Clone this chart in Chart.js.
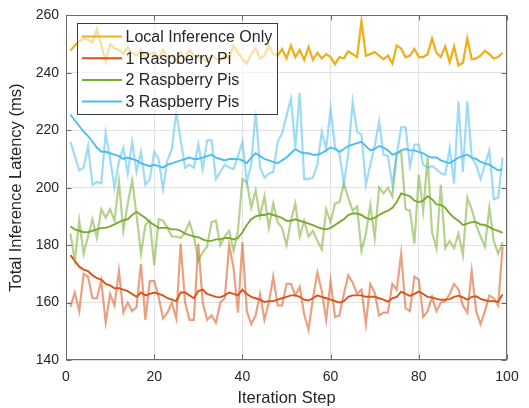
<!DOCTYPE html>
<html>
<head>
<meta charset="utf-8">
<title>Total Inference Latency</title>
<script src="https://cdn.jsdelivr.net/npm/chart.js@4.4.1/dist/chart.umd.min.js"></script>
<style>
  html, body { margin: 0; padding: 0; background: #fff; }
  #wrap { width: 529px; height: 408px; }
</style>
</head>
<body>
<div id="wrap"><canvas id="chart" width="529" height="408"></canvas></div>
<script>
// ============================================
// Inference latency per iteration step
// ============================================

const xTicks = [0, 20, 40, 60, 80, 100];
const yTicks = [140, 160, 180, 200, 220, 240, 260];

// iteration steps 1..99
const steps = Array.from({ length: 99 }, (_, i) => i + 1);

const localOnly = [
  247.8, 249.5, 251, 252, 251.5, 250.5, 255.3, 249.5, 244, 250,
  248.5, 248, 246.5, 249, 247, 246, 248, 245, 246.5, 247,
  245, 248, 245, 246, 244, 247, 245, 248, 246, 245.5,
  245, 244, 246, 245, 244.5, 246, 245, 249.5, 247, 245,
  243.2, 246.5, 248.5, 245, 246, 249.5, 246.5, 246, 248.3, 245,
  249.5, 245.5, 248, 244.5, 249, 244.5, 247, 245, 246.5, 245.5,
  243, 245.5, 245, 247.5, 246.5, 245.5, 258, 246, 246.5, 247.2,
  246, 244.7, 246, 243.2, 249.5, 248.5, 245.4, 246, 248.3, 245.5,
  245.5, 246.5, 252, 247, 245.5, 249.2, 243.7, 249.2, 242.6, 243.5,
  252, 244.7, 245, 246, 247.7, 246.5, 245, 245.5, 247
];

const pi1Raw = [
  158.5, 163.5, 157, 170, 169, 161.5, 161.5, 167.5, 153, 163,
  159, 171, 156.5, 160, 157, 158.5, 173.5, 154, 167.5, 167.5,
  162, 154.5, 156.5, 160, 154.5, 180.5, 160, 154, 154, 180.5,
  160, 154, 155.5, 153, 160, 161.5, 180, 172, 156.5, 181,
  157, 152.5, 155.5, 163, 154, 160, 169, 159, 159, 166.5,
  166.5, 162.5, 165.5, 156, 150.5, 161.5, 170.5, 164, 154, 167.5,
  155, 155.5, 163, 169.5, 167, 163, 164.5, 152.5, 166.5, 163.5,
  155.5, 156.5, 156.5, 166.5, 164.5, 177, 158, 157, 169, 168,
  155, 157, 162, 157, 160, 160.5, 163, 166.5, 164.5, 159,
  156.5, 171, 157, 152.5, 157, 162.5, 161.5, 159, 179.5
];

const pi1Smooth = [
  176.5, 174.5, 172.5, 171.5, 171, 169.5, 168.5, 168, 166.5, 166,
  165, 165, 164.5, 164, 163, 162, 163.5, 162.5, 163, 163.5,
  163, 162.5, 161.5, 161, 160.5, 163.5, 163.5, 162.5, 161.5, 164,
  164.5, 163, 162.5, 162, 161.8, 162.5, 163.5, 163, 162.5, 164.5,
  163, 162, 161.5, 161, 160.2, 160.5, 160.5, 161, 161.5, 162,
  162.5, 162.5, 162, 161, 160.7, 161.5, 162.5, 162, 161.5, 161,
  160.5, 160, 160.5, 162, 162.5, 162.5, 162.5, 162, 162, 162,
  161.5, 161, 160.3, 161.5, 162, 163.8, 163, 162.3, 163, 163.8,
  163, 162, 161.8, 161.3, 161, 161, 161.2, 162, 162.4, 161.8,
  161, 162, 162.2, 161.3, 160.8, 160.5, 160.5, 160.3, 162.8
];

const pi2Raw = [
  184, 174.5, 188.5, 177, 183, 189, 182.5, 192.5, 189.5, 192.5,
  188.5, 202, 185, 194.5, 202.5, 190.5, 177, 187, 188.5, 173,
  189, 188.5, 186, 183, 183, 182.5, 184.5, 188, 183, 174.5,
  177.5, 179.5, 188, 188.5, 180, 183, 185, 178, 185, 203,
  202, 193, 199, 190, 197, 186, 194.5, 188, 186, 180,
  188.5, 194.5, 183, 188.5, 183, 185, 181.5, 178.5, 192.5, 188,
  194.5, 195, 201.5, 196.5, 192, 193.5, 178, 184, 194, 182.5,
  200, 198, 200, 197, 212, 212.5, 192.5, 192, 180.5, 204.5,
  192, 210.5, 184.5, 179, 201, 179, 181.5, 179, 184, 176.5,
  196.5, 192.5, 187, 183, 179.5, 193, 181.5, 177, 181
];

const pi2Smooth = [
  186.5, 185.5, 185, 184.5, 184.5, 185, 185.5, 186, 186, 186.5,
  187.2, 188, 188.7, 189, 190.5, 191.6, 190.5, 189.5, 188, 187,
  186, 186, 186, 185.5, 185.5, 185, 184, 183.5, 183, 182.8,
  182, 181.5, 181.5, 182, 182, 182.5, 182.5, 182, 182.5, 184.5,
  187, 189, 190, 190.5, 190.5, 191, 190.5, 190, 189.5, 188.5,
  188.5, 189, 188.5, 188, 187.5, 187, 186.3, 185.8, 185.5, 186,
  187, 188, 189, 190.5, 191, 191, 190.5, 189.5, 189, 189.5,
  190.5, 191.3, 192, 193, 195, 198, 197.5, 197, 195.5, 195,
  195.5, 197, 196, 194.2, 194, 193, 191, 189.5, 188.5, 187,
  187.5, 188, 188, 187.2, 187, 186.3, 185.5, 185, 184.3
];

const pi3Raw = [
  216, 211, 206, 207, 214.5, 201, 202, 201.5, 219, 210,
  200, 209, 214, 205, 216, 205.5, 212.5, 201, 203, 212.5,
  210, 199.5, 209.5, 213.5, 226.5, 216.5, 207, 208, 207, 215,
  206.5, 216.5, 216.5, 203, 205.5, 208, 207, 206.5, 211, 216,
  202, 208, 227, 207, 203.5, 205, 205.5, 216, 219, 225,
  231, 214, 233, 203, 203, 203.5, 208, 219.5, 213.5, 227.5,
  214, 212, 201.5, 211.5, 230, 219.5, 218.5, 201, 208, 214.5,
  223, 211.5, 211, 201, 211.5, 221, 221, 207.5, 215, 215,
  208, 207, 207.5, 206.5, 205, 204.5, 214, 201.5, 230, 205.5,
  230, 210.5, 208, 203, 208, 213, 196, 196.5, 210.5
];

const pi3Smooth = [
  225.5, 223.5, 221.5, 219.5, 218, 216, 214, 212.5, 212.5, 212,
  211.5, 211, 210, 210.5, 210, 209.5, 208.5, 208, 207.5, 208,
  207.5, 207, 208, 208.5, 209, 209.5, 210, 210.5, 210, 210,
  210.5, 211, 211.5, 210.5, 210, 209.5, 210, 210, 210, 209.5,
  208.5, 210.5, 212, 211, 210, 209.5, 209, 208.5, 209.5, 210.5,
  212, 213.5, 212.5, 212, 212, 211.5, 211.5, 212, 213, 214,
  213.5, 212.5, 213.5, 214.5, 215, 215.5, 216, 214.5, 213, 213.5,
  214.5, 214, 213, 211.5, 212, 213, 213.5, 213, 213, 212.5,
  212, 211, 210.5, 210.5, 209.5, 209, 208.5, 209.5, 210.5, 211,
  211.5, 210.5, 210, 209, 208.5, 208, 207, 206, 206.5
];

const seriesNames = ['Local Inference Only', '1 Raspberry Pi', '2 Raspberry Pis', '3 Raspberry Pis'];
const seriesColors = ['#EDB120', '#D95319', '#77AC30', '#4DBEEE'];

const FONT = '"Liberation Sans", Arial, Helvetica, sans-serif';
const TEXT = '#262626';

function fade(hex, a) {
  const n = parseInt(hex.slice(1), 16);
  return `rgba(${n >> 16},${(n >> 8) & 255},${n & 255},${a})`;
}

function pts(values) {
  return values.map((v, i) => ({ x: steps[i], y: v }));
}

// lower order = drawn on top
function line(values, color, width, order, legend) {
  return {
    label: legend || '',
    inLegend: !!legend,
    data: pts(values),
    borderColor: color,
    borderWidth: width,
    pointRadius: 0,
    tension: 0,
    fill: false,
    order: order,
  };
}

const datasets = [
  line(localOnly, seriesColors[0], 2.3, 7, seriesNames[0]),
  line(pi1Raw, fade(seriesColors[1], 0.55), 2.2, 6),
  line(pi1Smooth, seriesColors[1], 1.9, 5, seriesNames[1]),
  line(pi2Raw, fade(seriesColors[2], 0.55), 2.2, 4),
  line(pi2Smooth, seriesColors[2], 1.9, 3, seriesNames[2]),
  line(pi3Raw, fade(seriesColors[3], 0.55), 2.2, 2),
  line(pi3Smooth, seriesColors[3], 1.9, 1, seriesNames[3]),
];

// box round the axes, ticks pointing inward on all four sides
const framePlugin = {
  id: 'frame',
  afterDatasetsDraw(chart) {
    const { ctx, chartArea: a, scales: { x, y } } = chart;
    const L = Math.round(a.left) + 0.5, R = Math.round(a.right) - 0.5;
    const T = Math.round(a.top) + 0.5, B = Math.round(a.bottom) - 0.5;
    const len = 5;
    ctx.save();
    ctx.strokeStyle = '#6b6b6b';
    ctx.lineWidth = 1;
    ctx.strokeRect(L, T, R - L, B - T);
    ctx.beginPath();
    xTicks.forEach(v => {
      const px = Math.round(x.getPixelForValue(v)) + 0.5;
      ctx.moveTo(px, B); ctx.lineTo(px, B - len);
      ctx.moveTo(px, T); ctx.lineTo(px, T + len);
    });
    yTicks.forEach(v => {
      const py = Math.round(y.getPixelForValue(v)) + 0.5;
      ctx.moveTo(L, py); ctx.lineTo(L + len, py);
      ctx.moveTo(R, py); ctx.lineTo(R - len, py);
    });
    ctx.stroke();
    ctx.restore();
  }
};

// legend inside the plot, top left, half-transparent white box
const legendPlugin = {
  id: 'boxLegend',
  afterDatasetsDraw(chart) {
    const { ctx } = chart;
    const items = chart.data.datasets.filter(d => d.inLegend);
    const box = { x: 77.5, y: 23.5, w: 200, h: 91 };
    const rowH = 21.7, first = 36.5;
    ctx.save();
    ctx.fillStyle = 'rgba(255,255,255,0.6)';
    ctx.fillRect(box.x, box.y, box.w, box.h);
    ctx.strokeStyle = '#3a3a3a';
    ctx.lineWidth = 1;
    ctx.strokeRect(box.x, box.y, box.w, box.h);
    ctx.font = `16px ${FONT}`;
    ctx.textBaseline = 'middle';
    ctx.fillStyle = TEXT;
    items.forEach((d, i) => {
      const yy = first + i * rowH;
      ctx.strokeStyle = d.borderColor;
      ctx.lineWidth = 2;
      ctx.beginPath();
      ctx.moveTo(82, yy);
      ctx.lineTo(122, yy);
      ctx.stroke();
      ctx.fillText(d.label, 125.5, yy + 1);
    });
    ctx.restore();
  }
};

new Chart(document.getElementById('chart').getContext('2d'), {
  type: 'line',
  data: { datasets },
  options: {
    responsive: false,
    animation: false,
    devicePixelRatio: 1,
    layout: { padding: { left: 0, right: 22, top: 13, bottom: 0 } },
    plugins: { legend: { display: false }, tooltip: { enabled: false } },
    scales: {
      x: {
        type: 'linear',
        min: 0,
        max: 100,
        afterBuildTicks: s => { s.ticks = xTicks.map(v => ({ value: v })); },
        afterFit: s => { s.height = 48; },
        grid: { color: '#e2e2e2', drawTicks: false },
        border: { display: false },
        ticks: { color: TEXT, font: { family: FONT, size: 14 }, padding: 9, maxRotation: 0 },
        title: {
          display: true,
          text: 'Iteration Step',
          color: TEXT,
          font: { family: FONT, size: 16.5 },
          padding: { top: 0, bottom: 0 },
        },
      },
      y: {
        type: 'linear',
        min: 140,
        max: 260,
        afterBuildTicks: s => { s.ticks = yTicks.map(v => ({ value: v })); },
        afterFit: s => { s.width = 66; },
        grid: { color: '#e2e2e2', drawTicks: false },
        border: { display: false },
        ticks: { color: TEXT, font: { family: FONT, size: 14 }, padding: 7 },
        title: {
          display: true,
          text: 'Total Inference Latency (ms)',
          color: TEXT,
          font: { family: FONT, size: 16.5 },
          padding: { top: 6.5, bottom: 0 },
        },
      },
    },
  },
  plugins: [framePlugin, legendPlugin],
});
</script>
</body>
</html>
